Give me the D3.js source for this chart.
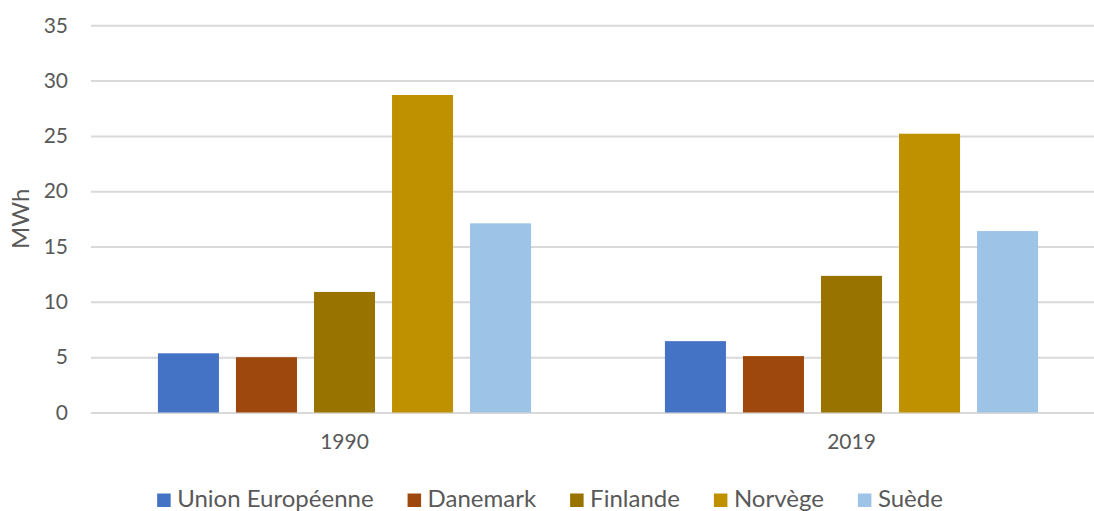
<!DOCTYPE html>
<html>
<head>
<meta charset="utf-8">
<script src="https://cdn.jsdelivr.net/npm/d3@7"></script>
<style>
  html, body { margin: 0; padding: 0; background: #fff; }
  svg { display: block; font-family: Lato, "Open Sans", sans-serif; }
</style>
</head>
<body>
<svg id="chart" width="1094" height="511"></svg>
<script>
// Consommation d'électricité par habitant (MWh)
const years = ["1990", "2019"];
const countries = ["Union Européenne", "Danemark", "Finlande", "Norvège", "Suède"];
const values1990 = [5.35, 5.0, 10.9, 28.7, 17.1];
const values2019 = [6.45, 5.1, 12.35, 25.2, 16.4];
const colors = ["#4472C4", "#9E480E", "#997300", "#BF9000", "#9DC3E6"];
const yTicks = [0, 5, 10, 15, 20, 25, 30, 35];

const valuesByYear = { "1990": values1990, "2019": values2019 };

const svg = d3.select("#chart");
const plotLeft = 91, plotRight = 1105, plotTop = 25.3, plotBottom = 412.5;

const y = d3.scaleLinear().domain([0, 35]).range([plotBottom, plotTop]);

const x0 = d3.scaleBand()
  .domain(years)
  .range([plotLeft, plotRight])
  .paddingInner(0.264)
  .paddingOuter(0.132);

const x1 = d3.scaleBand()
  .domain(countries)
  .range([0, x0.bandwidth()])
  .paddingInner(0.218)
  .paddingOuter(0);

const color = d3.scaleOrdinal().domain(countries).range(colors);

// horizontal gridlines
const grid = svg.append("g")
  .attr("transform", `translate(${plotLeft},0)`)
  .call(d3.axisLeft(y).tickValues(yTicks).tickSize(-(plotRight - plotLeft)).tickFormat(""));
grid.select(".domain").remove();
grid.selectAll(".tick line").attr("stroke", "#d9d9d9").attr("stroke-width", 2);

// y tick labels
const yAxis = svg.append("g")
  .attr("transform", `translate(${plotLeft},0)`)
  .call(d3.axisLeft(y).tickValues(yTicks).tickSize(0).tickPadding(23));
yAxis.select(".domain").remove();
yAxis.selectAll("text")
  .attr("fill", "#595959")
  .style("font-size", "21px")
  .style("font-family", "Lato, 'Open Sans', sans-serif");

// bars
const groups = svg.append("g").selectAll("g")
  .data(years)
  .join("g")
  .attr("transform", d => `translate(${x0(d)},0)`);

groups.selectAll("rect")
  .data(yr => countries.map((c, i) => ({ country: c, value: valuesByYear[yr][i] })))
  .join("rect")
  .attr("x", d => x1(d.country))
  .attr("y", d => y(d.value))
  .attr("width", x1.bandwidth())
  .attr("height", d => y(0) - y(d.value))
  .attr("fill", d => color(d.country));

// x axis labels
const xAxis = svg.append("g")
  .attr("transform", `translate(0,${plotBottom})`)
  .call(d3.axisBottom(x0).tickSize(0).tickPadding(22));
xAxis.select(".domain").remove();
xAxis.selectAll("text")
  .attr("fill", "#595959")
  .style("font-size", "21px")
  .style("font-family", "Lato, 'Open Sans', sans-serif");

// y axis title
svg.append("text")
  .attr("transform", `translate(28.5,${(plotTop + plotBottom) / 2}) rotate(-90)`)
  .attr("text-anchor", "middle")
  .attr("fill", "#595959")
  .style("font-size", "24px")
  .text("MWh");

// legend
const legend = svg.append("g");
const items = legend.selectAll("g")
  .data(countries)
  .join("g");
items.append("rect")
  .attr("width", 13.5)
  .attr("height", 13.5)
  .attr("y", 493.5)
  .attr("fill", d => color(d));
items.append("text")
  .attr("x", 20)
  .attr("y", 507)
  .attr("fill", "#595959")
  .style("font-size", "24px")
  .text(d => d);

let cursor = 0;
const gap = 34;
items.each(function () {
  const g = d3.select(this);
  const w = 20 + g.select("text").node().getComputedTextLength();
  g.attr("transform", `translate(${cursor},0)`);
  cursor += w + gap;
});
const total = cursor - gap;
legend.attr("transform", `translate(${550 - total / 2},0)`);
</script>
</body>
</html>
